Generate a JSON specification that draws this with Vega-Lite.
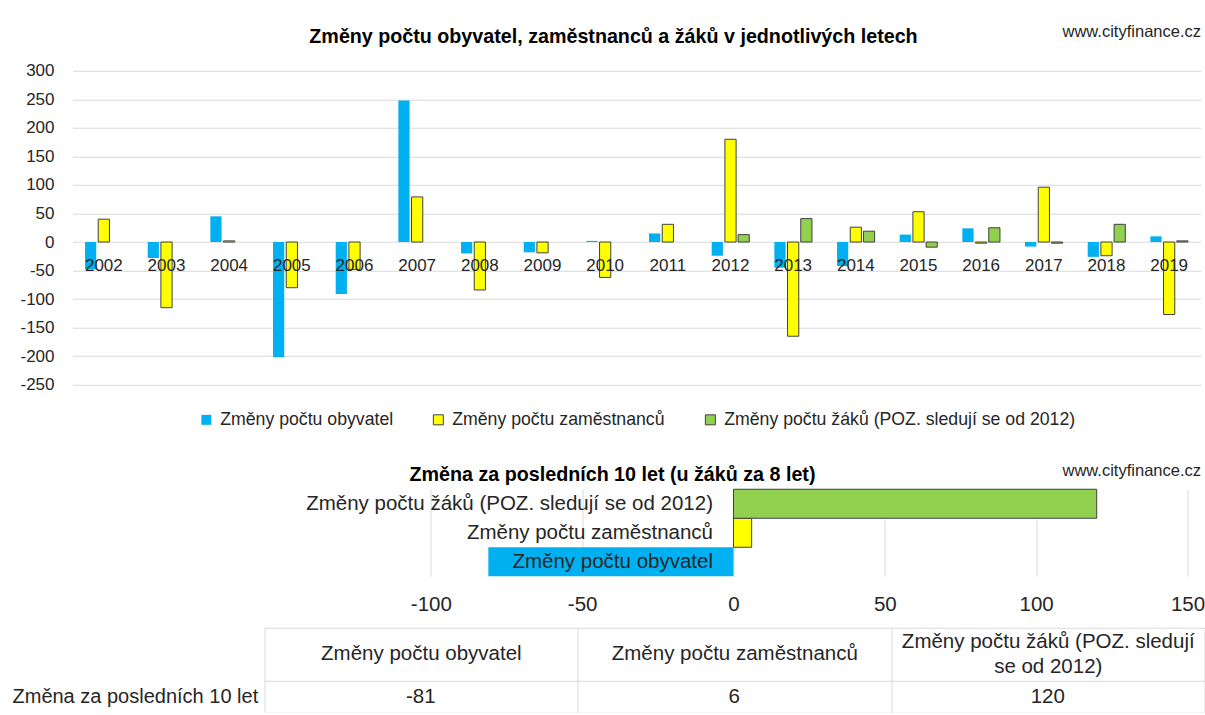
{
  "$schema": "https://vega.github.io/schema/vega-lite/v6.json",
  "background": "white",
  "padding": {"left": 11.5, "top": 23.75, "right": 0, "bottom": 0},
  "bounds": "flush",
  "spacing": 104.5,
  "resolve": {"scale": {"fill": "independent", "stroke": "independent"}, "legend": {"fill": "independent", "stroke": "independent"}},
  "config": {
    "view": {"stroke": null},
    "font": "Liberation Sans",
    "locale": {"number": {"decimal": ".", "thousands": " ", "grouping": [3], "currency": ["", " Kč"], "minus": "-"}},
    "axis": {"labelColor": "#262626", "domain": false, "ticks": false, "tickSize": 0, "gridColor": "#d9d9d9", "gridWidth": 1, "labelFont": "Liberation Sans", "labelFlush": false},
    "legend": {"layout": {"bottom": {"anchor": "middle"}}},
    "title": {"color": "#000000", "font": "Liberation Sans", "fontWeight": "bold", "fontSize": 19.7}
  },
  "datasets": {
    "annual": [
      {"year": "2002", "series": "Změny počtu obyvatel", "value": -48},
      {"year": "2003", "series": "Změny počtu obyvatel", "value": -28},
      {"year": "2004", "series": "Změny počtu obyvatel", "value": 45},
      {"year": "2005", "series": "Změny počtu obyvatel", "value": -202},
      {"year": "2006", "series": "Změny počtu obyvatel", "value": -91},
      {"year": "2007", "series": "Změny počtu obyvatel", "value": 248},
      {"year": "2008", "series": "Změny počtu obyvatel", "value": -20},
      {"year": "2009", "series": "Změny počtu obyvatel", "value": -18},
      {"year": "2010", "series": "Změny počtu obyvatel", "value": 2},
      {"year": "2011", "series": "Změny počtu obyvatel", "value": 15},
      {"year": "2012", "series": "Změny počtu obyvatel", "value": -24},
      {"year": "2013", "series": "Změny počtu obyvatel", "value": -45},
      {"year": "2014", "series": "Změny počtu obyvatel", "value": -42},
      {"year": "2015", "series": "Změny počtu obyvatel", "value": 13},
      {"year": "2016", "series": "Změny počtu obyvatel", "value": 24},
      {"year": "2017", "series": "Změny počtu obyvatel", "value": -8},
      {"year": "2018", "series": "Změny počtu obyvatel", "value": -26},
      {"year": "2019", "series": "Změny počtu obyvatel", "value": 10},
      {"year": "2002", "series": "Změny počtu zaměstnanců", "value": 40},
      {"year": "2003", "series": "Změny počtu zaměstnanců", "value": -115},
      {"year": "2004", "series": "Změny počtu zaměstnanců", "value": 2},
      {"year": "2005", "series": "Změny počtu zaměstnanců", "value": -80},
      {"year": "2006", "series": "Změny počtu zaměstnanců", "value": -48},
      {"year": "2007", "series": "Změny počtu zaměstnanců", "value": 79},
      {"year": "2008", "series": "Změny počtu zaměstnanců", "value": -84},
      {"year": "2009", "series": "Změny počtu zaměstnanců", "value": -19},
      {"year": "2010", "series": "Změny počtu zaměstnanců", "value": -62},
      {"year": "2011", "series": "Změny počtu zaměstnanců", "value": 31},
      {"year": "2012", "series": "Změny počtu zaměstnanců", "value": 180},
      {"year": "2013", "series": "Změny počtu zaměstnanců", "value": -165},
      {"year": "2014", "series": "Změny počtu zaměstnanců", "value": 26},
      {"year": "2015", "series": "Změny počtu zaměstnanců", "value": 53},
      {"year": "2016", "series": "Změny počtu zaměstnanců", "value": -2},
      {"year": "2017", "series": "Změny počtu zaměstnanců", "value": 96},
      {"year": "2018", "series": "Změny počtu zaměstnanců", "value": -24},
      {"year": "2019", "series": "Změny počtu zaměstnanců", "value": -127},
      {"year": "2012", "series": "Změny počtu žáků (POZ. sledují se od 2012)", "value": 13},
      {"year": "2013", "series": "Změny počtu žáků (POZ. sledují se od 2012)", "value": 41},
      {"year": "2014", "series": "Změny počtu žáků (POZ. sledují se od 2012)", "value": 19},
      {"year": "2015", "series": "Změny počtu žáků (POZ. sledují se od 2012)", "value": -9},
      {"year": "2016", "series": "Změny počtu žáků (POZ. sledují se od 2012)", "value": 25},
      {"year": "2017", "series": "Změny počtu žáků (POZ. sledují se od 2012)", "value": -2},
      {"year": "2018", "series": "Změny počtu žáků (POZ. sledují se od 2012)", "value": 31},
      {"year": "2019", "series": "Změny počtu žáků (POZ. sledují se od 2012)", "value": 2}
    ],
    "summary": [
      {"kategorie": "Změny počtu obyvatel", "radek": "Změna za posledních 10 let", "hodnota": -81},
      {"kategorie": "Změny počtu zaměstnanců", "radek": "Změna za posledních 10 let", "hodnota": 6},
      {"kategorie": "Změny počtu žáků (POZ. sledují se od 2012)", "radek": "Změna za posledních 10 let", "hodnota": 120}
    ]
  },
  "vconcat": [
    {
      "width": 1128,
      "height": 314,
      "title": {"text": "Změny počtu obyvatel, zaměstnanců a žáků v jednotlivých letech", "anchor": "middle", "frame": "group", "dx": -23, "offset": -23.1},
      "data": {"name": "annual"},
      "resolve": {"axis": {"x": "independent"}},
      "layer": [
        {
          "mark": {"type": "bar", "strokeWidth": 1},
          "encoding": {
            "x": {"field": "year", "type": "nominal", "scale": {"paddingInner": 0.4, "paddingOuter": 0.2},
                  "axis": {"orient": "bottom", "offset": -142.7, "title": null, "labelAngle": 0, "labelFontSize": 17, "labelPadding": 23.7, "labelBaseline": "middle", "grid": false, "zindex": 1}},
            "xOffset": {"field": "series", "type": "nominal", "scale": {"domain": ["Změny počtu obyvatel", "Změny počtu zaměstnanců", "Změny počtu žáků (POZ. sledují se od 2012)"], "paddingInner": 0.15, "paddingOuter": 0}},
            "y": {"field": "value", "type": "quantitative", "scale": {"domain": [-250, 300], "nice": false, "zero": false},
                  "axis": {"values": [-250, -200, -150, -100, -50, 0, 50, 100, 150, 200, 250, 300], "title": null, "labelFontSize": 17, "labelPadding": 18.5, "grid": true}},
            "fill": {"field": "series", "type": "nominal",
                     "scale": {"domain": ["Změny počtu obyvatel", "Změny počtu zaměstnanců", "Změny počtu žáků (POZ. sledují se od 2012)"], "range": ["#00b0f0", "#ffff00", "#92d050"]},
                     "legend": {"orient": "bottom", "direction": "horizontal", "title": null, "symbolType": "square", "symbolSize": 100, "labelFontSize": 17.7, "labelOffset": 5, "columnPadding": 36, "offset": 25.6, "padding": 0, "labelColor": "#262626", "symbolStrokeWidth": 1, "labelLimit": 600}},
            "stroke": {"field": "series", "type": "nominal",
                       "scale": {"domain": ["Změny počtu obyvatel", "Změny počtu zaměstnanců", "Změny počtu žáků (POZ. sledují se od 2012)"], "range": ["rgba(0,0,0,0)", "#404040", "#404040"]},
                       "legend": {"orient": "bottom", "direction": "horizontal", "title": null, "symbolType": "square", "symbolSize": 100, "labelFontSize": 17.7, "labelOffset": 5, "columnPadding": 36, "offset": 25.6, "padding": 0, "labelColor": "#262626", "symbolStrokeWidth": 1, "labelLimit": 600}}
          }
        },
        {
          "mark": {"type": "text", "text": ""},
          "encoding": {
            "x": {"field": "year", "type": "nominal",
                  "axis": {"orient": "top", "title": "www.cityfinance.cz", "labels": false, "grid": false, "titleAnchor": "end", "titleAlign": "right", "titleBaseline": "middle", "titlePadding": 39, "titleFontSize": 16.5, "titleFontWeight": "normal", "titleColor": "#262626", "titleFont": "Liberation Sans"}}
          }
        }
      ]
    },
    {
      "width": 1128,
      "height": 87,
      "title": {"text": "Změna za posledních 10 let (u žáků za 8 let)", "anchor": "middle", "frame": "group", "dx": -24, "offset": -22.4},
      "data": {"name": "summary"},
      "resolve": {"axis": {"x": "independent"}},
      "layer": [
        {
          "mark": {"type": "bar", "strokeWidth": 1},
          "encoding": {
            "y": {"field": "kategorie", "type": "nominal",
                  "sort": ["Změny počtu žáků (POZ. sledují se od 2012)", "Změny počtu zaměstnanců", "Změny počtu obyvatel"],
                  "scale": {"paddingInner": 0, "paddingOuter": 0},
                  "axis": {"orient": "left", "offset": -661, "title": null, "labelFontSize": 20.5, "labelPadding": 21, "labelLimit": 600, "zindex": 1, "grid": false}},
            "x": {"field": "hodnota", "type": "quantitative", "scale": {"domain": [-218.4, 154.3], "nice": false, "zero": false},
                  "axis": {"values": [-100, -50, 0, 50, 100, 150], "title": null, "labelFontSize": 20.5, "labelPadding": 18, "grid": true}},
            "fill": {"field": "kategorie", "type": "nominal",
                     "scale": {"domain": ["Změny počtu obyvatel", "Změny počtu zaměstnanců", "Změny počtu žáků (POZ. sledují se od 2012)"], "range": ["#00b0f0", "#ffff00", "#92d050"]}, "legend": null},
            "stroke": {"field": "kategorie", "type": "nominal",
                       "scale": {"domain": ["Změny počtu obyvatel", "Změny počtu zaměstnanců", "Změny počtu žáků (POZ. sledují se od 2012)"], "range": ["rgba(0,0,0,0)", "#404040", "#404040"]}, "legend": null}
          }
        },
        {
          "mark": {"type": "text", "text": ""},
          "encoding": {
            "x": {"field": "hodnota", "type": "quantitative",
                  "axis": {"orient": "top", "title": "www.cityfinance.cz", "labels": false, "grid": false, "titleAnchor": "end", "titleAlign": "right", "titleBaseline": "middle", "titlePadding": 19, "titleFontSize": 16.5, "titleFontWeight": "normal", "titleColor": "#262626", "titleFont": "Liberation Sans"}}
          }
        }
      ]
    },
    {
      "width": 1132,
      "height": 31.5,
      "data": {"name": "summary"},
      "mark": {"type": "text", "fontSize": 20.5, "color": "#262626", "font": "Liberation Sans"},
      "encoding": {
        "x": {"field": "kategorie", "type": "nominal",
              "scale": {"domain": ["Změny počtu obyvatel", "Změny počtu zaměstnanců", "Změny počtu žáků (POZ. sledují se od 2012)"], "range": [191.6, 1132], "paddingInner": 0, "paddingOuter": 0},
              "axis": {"orient": "top", "offset": 53, "title": null, "domain": true, "domainColor": "#d9d9d9", "ticks": true, "tickSize": -53, "tickColor": "#d9d9d9", "tickBand": "extent", "grid": true, "labelAngle": 0, "labelFontSize": 20.5, "labelBaseline": "middle", "labelLineHeight": 25, "labelLimit": 320, "labelOverlap": false,
                       "labelPadding": {"condition": {"test": "datum.value == 'Změny počtu žáků (POZ. sledují se od 2012)'", "value": 39.5}, "value": 27},
                       "labelExpr": "datum.label == 'Změny počtu žáků (POZ. sledují se od 2012)' ? ['Změny počtu žáků (POZ. sledují', 'se od 2012)'] : datum.label"}},
        "y": {"field": "radek", "type": "nominal", "scale": {"paddingInner": 0, "paddingOuter": 0},
              "axis": {"orient": "left", "title": null, "labelAlign": "left", "labelPadding": 60.5, "labelFontSize": 20, "labelLimit": 400, "labelBaseline": "middle", "grid": true, "tickBand": "extent"}},
        "text": {"field": "hodnota", "type": "quantitative"}
      }
    }
  ]
}
